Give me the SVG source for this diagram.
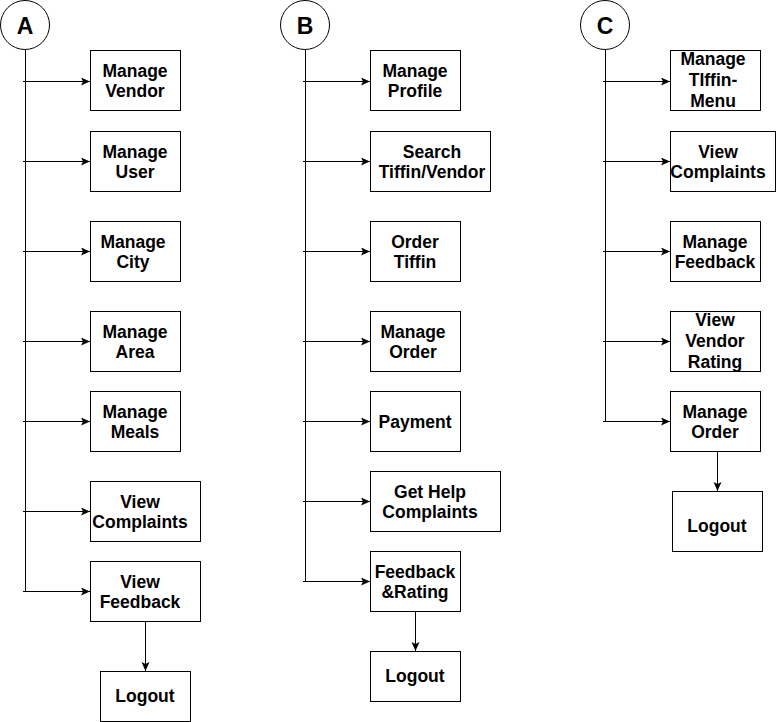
<svg xmlns="http://www.w3.org/2000/svg" width="776" height="722" viewBox="0 0 776 722">
<style>
.box{fill:#fff;stroke:#000;stroke-width:1}
.t{font-family:"Liberation Sans",Arial,sans-serif;font-weight:bold;font-size:17.5px;fill:#000;text-anchor:middle}
.h{font-family:"Liberation Sans",Arial,sans-serif;font-weight:bold;font-size:23px;fill:#000;text-anchor:middle}
.ln{fill:none;stroke:#000;stroke-width:1}
.ar{fill:none;stroke:#000;stroke-width:1;marker-end:url(#ah)}
</style>
<defs>
<marker id="ah" markerUnits="userSpaceOnUse" markerWidth="10" markerHeight="9" refX="9" refY="4" orient="auto">
<path d="M0,0 L9,4 L0,8 L2,4 Z" fill="#000"/>
</marker>
</defs>
<rect width="776" height="722" fill="#fff"/>
<g id="connectors">
<line class="ln" x1="25.5" y1="50" x2="25.5" y2="591.5"/>
<line class="ar" x1="23" y1="81.5" x2="90" y2="81.5"/>
<line class="ar" x1="23" y1="161.5" x2="90" y2="161.5"/>
<line class="ar" x1="23" y1="251.5" x2="90" y2="251.5"/>
<line class="ar" x1="23" y1="341.5" x2="90" y2="341.5"/>
<line class="ar" x1="23" y1="421.5" x2="90" y2="421.5"/>
<line class="ar" x1="23" y1="511.5" x2="90" y2="511.5"/>
<line class="ar" x1="23" y1="591.5" x2="90" y2="591.5"/>
<line class="ar" x1="145.5" y1="621" x2="145.5" y2="671"/>
<line class="ln" x1="305.5" y1="50" x2="305.5" y2="581.5"/>
<line class="ar" x1="303" y1="81.5" x2="370" y2="81.5"/>
<line class="ar" x1="303" y1="161.5" x2="370" y2="161.5"/>
<line class="ar" x1="303" y1="251.5" x2="370" y2="251.5"/>
<line class="ar" x1="303" y1="341.5" x2="370" y2="341.5"/>
<line class="ar" x1="303" y1="421.5" x2="370" y2="421.5"/>
<line class="ar" x1="303" y1="501.5" x2="370" y2="501.5"/>
<line class="ar" x1="303" y1="581.5" x2="370" y2="581.5"/>
<line class="ar" x1="415.5" y1="611" x2="415.5" y2="651"/>
<line class="ln" x1="605.5" y1="50" x2="605.5" y2="421.5"/>
<line class="ar" x1="603" y1="81.5" x2="670" y2="81.5"/>
<line class="ar" x1="603" y1="161.5" x2="670" y2="161.5"/>
<line class="ar" x1="603" y1="251.5" x2="670" y2="251.5"/>
<line class="ar" x1="603" y1="341.5" x2="670" y2="341.5"/>
<line class="ar" x1="603" y1="421.5" x2="670" y2="421.5"/>
<line class="ar" x1="717.5" y1="451" x2="717.5" y2="491"/>
</g>
<g id="A"><circle class="box" cx="25" cy="25" r="24.5"/><text class="h" x="25" y="34">A</text></g>
<g id="B"><circle class="box" cx="305" cy="25" r="24.5"/><text class="h" x="305" y="34">B</text></g>
<g id="C"><circle class="box" cx="605" cy="25" r="24.5"/><text class="h" x="605" y="34">C</text></g>

<g id="a1"><rect class="box" x="90.5" y="50.5" width="90" height="60"/><text class="t" x="135" y="77">Manage</text><text class="t" x="135" y="97">Vendor</text></g>
<g id="a2"><rect class="box" x="90.5" y="131.5" width="90" height="60"/><text class="t" x="135" y="158">Manage</text><text class="t" x="135" y="178">User</text></g>
<g id="a3"><rect class="box" x="90.5" y="221.5" width="90" height="60"/><text class="t" x="133" y="248">Manage</text><text class="t" x="133" y="268">City</text></g>
<g id="a4"><rect class="box" x="90.5" y="311.5" width="90" height="60"/><text class="t" x="135" y="338">Manage</text><text class="t" x="135" y="358">Area</text></g>
<g id="a5"><rect class="box" x="90.5" y="391.5" width="90" height="60"/><text class="t" x="135" y="418">Manage</text><text class="t" x="135" y="438">Meals</text></g>
<g id="a6"><rect class="box" x="90.5" y="481.5" width="110" height="60"/><text class="t" x="140" y="508">View</text><text class="t" x="140" y="528">Complaints</text></g>
<g id="a7"><rect class="box" x="90.5" y="561.5" width="110" height="60"/><text class="t" x="140" y="588">View</text><text class="t" x="140" y="608">Feedback</text></g>
<g id="a8"><rect class="box" x="100.5" y="671.5" width="90" height="50"/><text class="t" x="145" y="702">Logout</text></g>

<g id="b1"><rect class="box" x="370.5" y="50.5" width="90" height="60"/><text class="t" x="415" y="77">Manage</text><text class="t" x="415" y="97">Profile</text></g>
<g id="b2"><rect class="box" x="370.5" y="131.5" width="120" height="60"/><text class="t" x="432" y="158">Search</text><text class="t" x="432" y="178">Tiffin/Vendor</text></g>
<g id="b3"><rect class="box" x="370.5" y="221.5" width="90" height="60"/><text class="t" x="415" y="248">Order</text><text class="t" x="415" y="268">Tiffin</text></g>
<g id="b4"><rect class="box" x="370.5" y="311.5" width="90" height="60"/><text class="t" x="413" y="338">Manage</text><text class="t" x="413" y="358">Order</text></g>
<g id="b5"><rect class="box" x="370.5" y="391.5" width="90" height="60"/><text class="t" x="415" y="428">Payment</text></g>
<g id="b6"><rect class="box" x="370.5" y="471.5" width="130" height="60"/><text class="t" x="430" y="498">Get Help</text><text class="t" x="430" y="518">Complaints</text></g>
<g id="b7"><rect class="box" x="370.5" y="551.5" width="90" height="60"/><text class="t" x="415" y="578">Feedback</text><text class="t" x="415" y="598">&amp;Rating</text></g>
<g id="b8"><rect class="box" x="370.5" y="651.5" width="90" height="50"/><text class="t" x="415" y="682">Logout</text></g>

<g id="c1"><rect class="box" x="670.5" y="50.5" width="90" height="60"/><text class="t" x="713" y="65">Manage</text><text class="t" x="713" y="86">TIffin-</text><text class="t" x="713" y="107">Menu</text></g>
<g id="c2"><rect class="box" x="670.5" y="131.5" width="105" height="60"/><text class="t" x="718" y="158">View</text><text class="t" x="718" y="178">Complaints</text></g>
<g id="c3"><rect class="box" x="670.5" y="221.5" width="90" height="60"/><text class="t" x="715" y="248">Manage</text><text class="t" x="715" y="268">Feedback</text></g>
<g id="c4"><rect class="box" x="670.5" y="311.5" width="90" height="60"/><text class="t" x="715" y="326">View</text><text class="t" x="715" y="347">Vendor</text><text class="t" x="715" y="368">Rating</text></g>
<g id="c5"><rect class="box" x="670.5" y="391.5" width="90" height="60"/><text class="t" x="715" y="418">Manage</text><text class="t" x="715" y="438">Order</text></g>
<g id="c6"><rect class="box" x="672.5" y="491.5" width="90" height="60"/><text class="t" x="717" y="532">Logout</text></g>
</svg>
